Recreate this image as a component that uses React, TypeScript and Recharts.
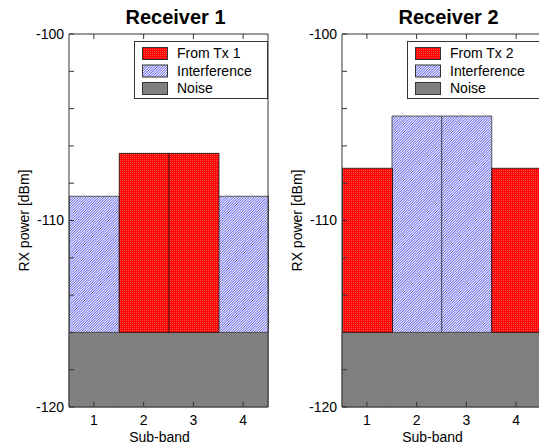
import React from 'react';
import { BarChart, Bar, XAxis, YAxis, Legend } from 'recharts';

// Sub-band categories and received power levels [dBm]
const bands = ['1', '2', '3', '4'];
const yTicks = [-120, -118, -116, -114, -112, -110, -108, -106, -104, -102, -100];
const yFloor = -120;

const rx1FromTx = [null, -106.4, -106.4, null];
const rx1Interference = [-108.7, null, null, -108.7];
const rx1Noise = [-116, -116, -116, -116];

const rx2FromTx = [-107.2, null, null, -107.2];
const rx2Interference = [null, -104.4, -104.4, null];
const rx2Noise = [-116, -116, -116, -116];

const FONT = "'Liberation Sans', Arial, Helvetica, sans-serif";
const AXIS = '#333';

const fills = ['url(#pTx)', 'url(#pIntf)', '#808080'];

const LeftTick = (props: any) => {
  const { x, y, payload } = props;
  const v = payload.value;
  return (
    <g>
      <line x1={x} x2={x + 5} y1={y} y2={y} stroke={AXIS} />
      <text x={x - 5} y={y} dy="0.35em" textAnchor="end" fontSize={14} fontFamily={FONT} fill="#000">
        {v % 10 === 0 ? v : ''}
      </text>
    </g>
  );
};

const RightTick = (props: any) => {
  const { x, y } = props;
  return <line x1={x} x2={x - 5} y1={y} y2={y} stroke={AXIS} />;
};

const BottomTick = (props: any) => {
  const { x, y, payload } = props;
  return (
    <g>
      <line x1={x} x2={x} y1={y} y2={y - 5} stroke={AXIS} />
      <text x={x} y={y + 18} textAnchor="middle" fontSize={14} fontFamily={FONT} fill="#000">
        {payload.value}
      </text>
    </g>
  );
};

const TopTick = (props: any) => {
  const { x, y } = props;
  return <line x1={x} x2={x} y1={y} y2={y + 5} stroke={AXIS} />;
};

const TitleLabel = (props: any) => {
  const vb = props.viewBox;
  return (
    <text x={vb.x + vb.width / 2 + 7} y={24} textAnchor="middle" fontSize={20} fontWeight="bold" fontFamily={FONT} fill="#000">
      {props.title}
    </text>
  );
};

const XLabel = (props: any) => {
  const vb = props.viewBox;
  return (
    <text x={vb.x + vb.width / 2 - 9} y={442} textAnchor="middle" fontSize={14} fontFamily={FONT} fill="#000">
      Sub-band
    </text>
  );
};

const YLabel = (props: any) => {
  const vb = props.viewBox;
  const cx = 29;
  const cy = vb.y + vb.height / 2;
  return (
    <text x={cx} y={cy} transform={`rotate(-90, ${cx}, ${cy})`} textAnchor="middle" fontSize={14} fontFamily={FONT} fill="#000">
      RX power [dBm]
    </text>
  );
};

const LegendBox = ({ labels }: { labels: string[] }) => (
  <svg width={134} height={58} style={{ display: 'block' }}>
    <rect x={0.5} y={0.5} width={133} height={57} fill="#fff" stroke={AXIS} />
    {labels.map((l, i) => (
      <g key={l}>
        <rect x={8.5} y={6.5 + i * 17.5} width={25} height={12} fill={fills[i]} stroke={AXIS} />
        <text x={43} y={17 + i * 17.5} fontSize={14} fontFamily={FONT} fill="#000">
          {l}
        </text>
      </g>
    ))}
  </svg>
);

type RxProps = {
  title: string;
  txLabel: string;
  fromTx: (number | null)[];
  interference: (number | null)[];
  noise: number[];
  left: number;
};

const Receiver = ({ title, txLabel, fromTx, interference, noise, left }: RxProps) => {
  const data = bands.map((b, i) => ({
    band: b,
    tx: fromTx[i] != null ? [noise[i], fromTx[i]] : undefined,
    intf: interference[i] != null ? [noise[i], interference[i]] : undefined,
    noise: [yFloor, noise[i]],
  }));
  return (
    <div style={{ position: 'absolute', left, top: 0 }}>
      <BarChart
        width={280}
        height={447}
        data={data}
        margin={{ top: 0, right: 0, bottom: 0, left: 0 }}
        barCategoryGap={0}
        barGap="-100%"
      >
        <XAxis
          dataKey="band"
          height={40}
          stroke={AXIS}
          tickLine={false}
          tickSize={0}
          tickMargin={0}
          tick={<BottomTick />}
          label={<XLabel />}
        />
        <XAxis
          xAxisId="top"
          orientation="top"
          dataKey="band"
          height={34}
          stroke={AXIS}
          tickLine={false}
          tickSize={0}
          tickMargin={0}
          tick={<TopTick />}
          label={<TitleLabel title={title} />}
        />
        <YAxis
          type="number"
          domain={[-120, -100]}
          ticks={yTicks}
          interval={0}
          width={69}
          stroke={AXIS}
          tickLine={false}
          tickSize={0}
          tickMargin={0}
          tick={<LeftTick />}
          label={<YLabel />}
        />
        <YAxis
          yAxisId="r"
          orientation="right"
          type="number"
          domain={[-120, -100]}
          ticks={yTicks}
          interval={0}
          width={12}
          stroke={AXIS}
          tickLine={false}
          tickSize={0}
          tickMargin={0}
          tick={<RightTick />}
        />
        <Bar dataKey="noise" fill="#808080" stroke="#808080" strokeWidth={1} isAnimationActive={false} />
        <Bar dataKey="intf" fill="url(#pIntf)" stroke="#333" strokeWidth={0.8} isAnimationActive={false} />
        <Bar dataKey="tx" fill="url(#pTx)" stroke="#111" strokeWidth={0.8} isAnimationActive={false} />
        <Legend
          layout="horizontal"
          verticalAlign="middle"
          align="center"
          wrapperStyle={{ top: 41, left: 134, width: 134, height: 58 }}
          content={() => <LegendBox labels={[txLabel, 'Interference', 'Noise']} />}
        />
      </BarChart>
    </div>
  );
};

export default function App() {
  return (
    <div
      style={{
        position: 'absolute',
        left: 0,
        top: 0,
        width: 539,
        height: 447,
        overflow: 'hidden',
        background: '#fff',
        fontFamily: FONT,
      }}
    >
      <svg width={0} height={0} style={{ position: 'absolute' }}>
        <defs>
          <pattern id="pTx" width={2} height={2} patternUnits="userSpaceOnUse">
            <rect width={2} height={2} fill="#ff0000" />
            <rect width={1} height={1} fill="#ff5050" />
          </pattern>
          <pattern id="pIntf" width={1.8} height={1.8} patternUnits="userSpaceOnUse" patternTransform="rotate(45)">
            <rect width={1.8} height={1.8} fill="#ffffff" />
            <rect width={0.75} height={1.8} fill="#4848e8" />
          </pattern>
        </defs>
      </svg>
      <Receiver title="Receiver 1" txLabel="From Tx 1" fromTx={rx1FromTx} interference={rx1Interference} noise={rx1Noise} left={0} />
      <Receiver title="Receiver 2" txLabel="From Tx 2" fromTx={rx2FromTx} interference={rx2Interference} noise={rx2Noise} left={273} />
    </div>
  );
}
